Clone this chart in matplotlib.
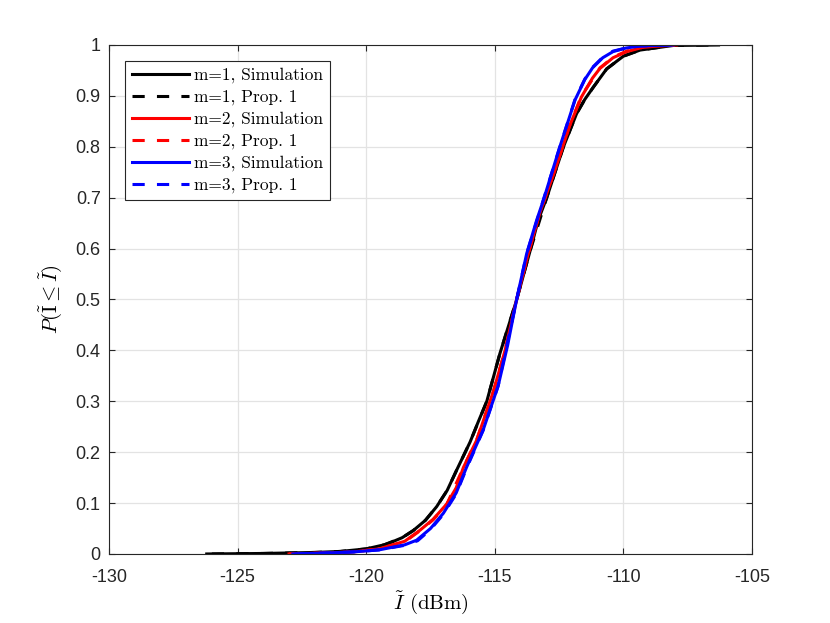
import numpy as np
import matplotlib
matplotlib.use('Agg')
import matplotlib.pyplot as plt

# CDF of aggregate interference
# m=1
x_m1_sim = [-126.2, -124.0, -122.0, -121.0, -120.0, -119.3, -119.07, -118.6, -118.17, -117.7,
            -117.26, -116.85, -116.48, -115.96, -115.64, -115.31, -114.8, -114.15, -113.63, -113.31,
            -112.98, -112.33, -111.82, -111.5, -111.17, -110.65, -110.0, -109.35, -108.07, -106.3]
p_m1_sim = [0.0, 0.001, 0.003, 0.005, 0.01, 0.018, 0.022, 0.032, 0.046, 0.066,
            0.093, 0.125, 0.165, 0.22, 0.26, 0.30, 0.394, 0.499, 0.595, 0.656,
            0.70, 0.80, 0.865, 0.893, 0.917, 0.953, 0.978, 0.99, 0.999, 1.0]
x_m1_prop = [-126.0, -124.0, -122.0, -121.0, -120.0, -119.3, -118.6, -118.17, -117.7,
             -117.26, -116.85, -116.48, -115.96, -115.31, -114.8, -114.15, -113.63,
             -112.98, -112.33, -111.82, -111.5, -111.17, -110.65, -110.0, -109.35, -108.1, -106.5]
p_m1_prop = [0.0, 0.001, 0.003, 0.005, 0.01, 0.018, 0.032, 0.046, 0.066,
             0.093, 0.125, 0.165, 0.22, 0.30, 0.394, 0.50, 0.595,
             0.70, 0.80, 0.865, 0.893, 0.917, 0.953, 0.978, 0.99, 0.999, 1.0]

# m=2
x_m2_sim = [-123.0, -121.5, -120.5, -119.5, -118.5, -117.9, -117.4, -116.87, -116.5, -116.22,
            -115.7, -115.05, -114.6, -114.15, -113.7, -113.25, -112.66, -112.1, -111.63, -111.2,
            -110.91, -110.4, -109.87, -109.2, -107.93]
p_m2_sim = [0.0, 0.002, 0.004, 0.01, 0.025, 0.047, 0.068, 0.098, 0.13, 0.17,
            0.224, 0.32, 0.40, 0.50, 0.59, 0.67, 0.754, 0.84, 0.898, 0.935,
            0.954, 0.975, 0.987, 0.996, 1.0]
x_m2_prop = [-123.0, -121.5, -120.5, -119.5, -118.5, -117.9, -117.4, -116.87, -116.22,
             -115.7, -115.05, -114.6, -114.15, -113.7, -113.25, -112.66, -112.1, -111.63,
             -110.91, -110.4, -109.87, -109.2, -108.0]
p_m2_prop = [0.0, 0.002, 0.004, 0.01, 0.024, 0.046, 0.067, 0.097, 0.17,
             0.225, 0.32, 0.40, 0.50, 0.59, 0.67, 0.755, 0.84, 0.90,
             0.955, 0.976, 0.988, 0.996, 1.0]

# m=3
x_m3_sim = [-122.85, -121.5, -120.5, -119.5, -118.5, -118.04, -117.5, -117.0, -116.5, -116.1,
            -115.45, -114.87, -114.5, -114.15, -113.76, -113.37, -113.11, -112.47, -111.88, -111.5,
            -111.2, -110.8, -110.4, -109.9, -109.35, -108.06]
p_m3_sim = [0.0, 0.002, 0.004, 0.008, 0.018, 0.027, 0.05, 0.08, 0.12, 0.17,
            0.244, 0.33, 0.41, 0.50, 0.59, 0.656, 0.695, 0.80, 0.892, 0.932,
            0.955, 0.975, 0.987, 0.994, 0.998, 1.0]
x_m3_prop = [-122.8, -121.5, -120.5, -119.5, -118.5, -118.0, -117.5, -117.0, -116.5, -116.1,
             -115.45, -114.87, -114.15, -113.76, -113.11, -112.47, -111.88, -111.5,
             -111.2, -110.8, -110.4, -109.9, -109.35, -108.1]
p_m3_prop = [0.0, 0.002, 0.004, 0.008, 0.017, 0.026, 0.048, 0.078, 0.118, 0.168,
             0.243, 0.33, 0.50, 0.59, 0.696, 0.80, 0.893, 0.933,
             0.956, 0.976, 0.988, 0.994, 0.998, 1.0]

labels = ['m=1, Simulation', 'm=1, Prop. 1', 'm=2, Simulation', 'm=2, Prop. 1',
          'm=3, Simulation', 'm=3, Prop. 1']
xticks = [-130, -125, -120, -115, -110, -105]
yticks = [0, 0.1, 0.2, 0.3, 0.4, 0.5, 0.6, 0.7, 0.8, 0.9, 1]
yticklabels = ['0', '0.1', '0.2', '0.3', '0.4', '0.5', '0.6', '0.7', '0.8', '0.9', '1']

plt.rcParams['mathtext.fontset'] = 'cm'
plt.rcParams['font.family'] = 'Liberation Sans'

fig = plt.figure(figsize=(8.3, 6.23), dpi=100)
ax = fig.add_axes([0.1313, 0.1108, 0.906 - 0.1313, 0.9278 - 0.1108])

lw = 2.2
ax.plot(x_m1_sim, p_m1_sim, '-', color='k', lw=lw, label=labels[0])
ax.plot(x_m1_prop, p_m1_prop, '--', color='k', lw=lw, dashes=(4, 4), label=labels[1])
ax.plot(x_m2_sim, p_m2_sim, '-', color='r', lw=lw, label=labels[2])
ax.plot(x_m2_prop, p_m2_prop, '--', color='r', lw=lw, dashes=(4, 4), label=labels[3])
ax.plot(x_m3_sim, p_m3_sim, '-', color='b', lw=lw, label=labels[4])
ax.plot(x_m3_prop, p_m3_prop, '--', color='b', lw=lw, dashes=(4, 4), label=labels[5])

ax.set_xlim(-130, -105)
ax.set_ylim(0, 1)
ax.set_xticks(xticks)
ax.set_xticklabels([str(t) for t in xticks])
ax.set_yticks(yticks)
ax.set_yticklabels(yticklabels)
ax.grid(True, color='#e3e3e3', lw=0.9)
ax.set_axisbelow(True)
for s in ax.spines.values():
    s.set_color('#262626')
    s.set_linewidth(0.8)
ax.tick_params(direction='in', length=4, width=0.8, top=True, right=True,
               labelsize=13, colors='#262626')
ax.tick_params(axis='x', pad=11)
ax.tick_params(axis='y', pad=6)

ax.set_xlabel(r'$\tilde{I}$ (dBm)', fontfamily='cmr10', fontsize=15, labelpad=2)
ax.set_ylabel(r'$P(\tilde{\mathrm{I}} \leq \tilde{I})$', fontsize=15, labelpad=8)

leg = ax.legend(loc='upper left', prop={'family': 'cmr10', 'size': 12.5},
                fancybox=False, edgecolor='#262626', framealpha=1,
                borderaxespad=0.9, labelspacing=0.36, handlelength=3.3,
                handletextpad=0.3, borderpad=0.4)
leg.get_frame().set_linewidth(0.8)

fig.savefig('out.png', dpi=100)
